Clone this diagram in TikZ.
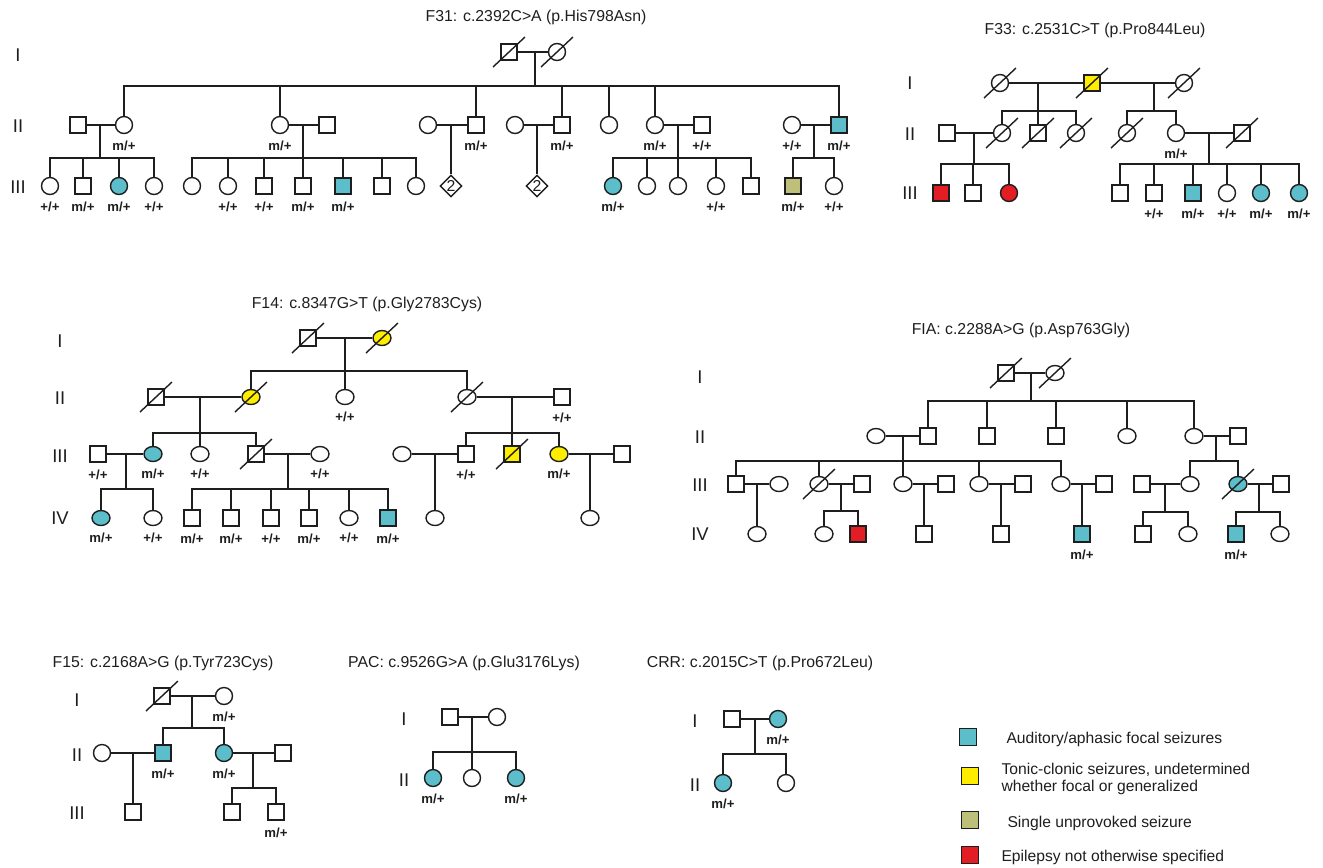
\documentclass[tikz,border=0pt]{standalone}
\usepackage{fontspec}
\setmainfont{Liberation Sans}
\usetikzlibrary{shapes.geometric}
\definecolor{audcol}{RGB}{92,190,202}
\definecolor{tccol}{RGB}{255,237,0}
\definecolor{suscol}{RGB}{190,192,122}
\definecolor{epicol}{RGB}{226,30,36}
\definecolor{inkcol}{RGB}{30,30,30}
\tikzset{
  male/.style     = {draw, rectangle, minimum size=0.32cm, inner sep=0pt},
  female/.style   = {draw, circle, minimum size=0.34cm, inner sep=0pt},
  oval/.style     = {draw, ellipse, minimum width=0.36cm, minimum height=0.3cm, inner sep=0pt},
  twins/.style    = {draw, diamond, minimum size=0.44cm, inner sep=0pt, font=\fontsize{9}{9}\selectfont},
  aud/.style      = {fill=audcol},
  tc/.style       = {fill=tccol},
  sus/.style      = {fill=suscol},
  epi/.style      = {fill=epicol},
  gt/.style       = {label={[font=\bfseries\fontsize{7.5}{8}\selectfont, inner sep=1pt]below:#1}},
  famtitle/.style = {font=\fontsize{9}{10}\selectfont},
  genlab/.style   = {font=\fontsize{10.5}{10.5}\selectfont},
  legbox/.style   = {draw, minimum size=0.34cm, inner sep=0pt},
  legtext/.style  = {anchor=west, align=left, font=\fontsize{8.9}{9.7}\selectfont}
}
\begin{document}
\begin{tikzpicture}[x=0.02cm, y=-0.02cm, line width=0.8pt, color=inkcol, label distance=2.5pt]
\useasboundingbox (0,0) rectangle (1323,867);

% F31
\node [famtitle] (t31) at (536,17) {F31: c.2392C>A (p.His798Asn)};
\foreach \g/\y [count=\k] in {I/55, II/126, III/187}
    \node [genlab] (g31\k) at (18,\y) {\g};

\node [male]                    (a1)  at (509,52)  {};
\node [female]                  (a2)  at (557,52)  {};
\coordinate (a12m) at (535,52);
\coordinate (a12s) at (535,86);

\node [male]                    (b1)  at (78,125)  {};
\node [female, gt=m/+]          (b2)  at (124,125) {};
\node [female, gt=m/+]          (b3)  at (280,125) {};
\node [male]                    (b4)  at (327,125) {};
\node [female]                  (b5)  at (428,125) {};
\node [male, gt=m/+]            (b6)  at (476,125) {};
\node [female]                  (b7)  at (515,125) {};
\node [male, gt=m/+]            (b8)  at (562,125) {};
\node [female]                  (b9)  at (609,125) {};
\node [female, gt=m/+]          (b10) at (655,125) {};
\node [male, gt=+/+]            (b11) at (702,125) {};
\node [female, gt=+/+]          (b12) at (792,125) {};
\node [male, aud, gt=m/+]       (b13) at (839,125) {};
\coordinate (b12m)   at (100,125);  \coordinate (b12s)   at (100,158);
\coordinate (b34m)   at (303,125);  \coordinate (b34s)   at (303,158);
\coordinate (b56m)   at (451,125);
\coordinate (b78m)   at (537,125);
\coordinate (b1011m) at (678,125);  \coordinate (b1011s) at (678,158);
\coordinate (b1213m) at (814,125);  \coordinate (b1213s) at (814,158);

\node [female, gt=+/+]          (c1)  at (50,186)  {};
\node [male, gt=m/+]            (c2)  at (83,186)  {};
\node [female, aud, gt=m/+]     (c3)  at (119,186) {};
\node [female, gt=+/+]          (c4)  at (154,186) {};
\node [female]                  (c5)  at (192,186) {};
\node [female, gt=+/+]          (c6)  at (228,186) {};
\node [male, gt=+/+]            (c7)  at (264,186) {};
\node [male, gt=m/+]            (c8)  at (303,186) {};
\node [male, aud, gt=m/+]       (c9)  at (343,186) {};
\node [male]                    (c10) at (382,186) {};
\node [female]                  (c11) at (416,186) {};
\node [twins]                   (d1)  at (451,186) {2};
\node [twins]                   (d2)  at (537,186) {2};
\node [female, aud, gt=m/+]     (c12) at (613,186) {};
\node [female]                  (c13) at (647,186) {};
\node [female]                  (c14) at (678,186) {};
\node [female, gt=+/+]          (c15) at (716,186) {};
\node [male]                    (c16) at (751,186) {};
\node [male, sus, gt=m/+]       (c17) at (793,186) {};
\node [female, gt=+/+]          (c18) at (834,186) {};

\draw (a1) -- (a2);  \draw (a12m) -- (a12s);
\foreach \c in {b2,b3,b6,b8,b9,b10,b13} \draw (a12s) -| (\c);
\draw (b1) -- (b2);  \draw (b12m) -- (b12s);
\foreach \c in {c1,c2,c3,c4} \draw (b12s) -| (\c);
\draw (b3) -- (b4);  \draw (b34m) -- (b34s);
\foreach \c in {c5,c6,c7,c8,c9,c10,c11} \draw (b34s) -| (\c);
\draw (b5) -- (b6);  \draw (b56m) -- (d1);
\draw (b7) -- (b8);  \draw (b78m) -- (d2);
\draw (b10) -- (b11);  \draw (b1011m) -- (b1011s);
\foreach \c in {c12,c13,c14,c15,c16} \draw (b1011s) -| (\c);
\draw (b12) -- (b13);  \draw (b1213m) -- (b1213s);
\foreach \c in {c17,c18} \draw (b1213s) -| (\c);

% F33
\node [famtitle] (t33) at (1095,30) {F33: c.2531C>T (p.Pro844Leu)};
\foreach \g/\y [count=\k] in {I/83, II/134, III/193}
    \node [genlab] (g33\k) at (910,\y) {\g};

\node [female]                  (e1)  at (1000,83) {};
\node [male, tc]                (e2)  at (1092,83) {};
\node [female]                  (e3)  at (1184,83) {};
\coordinate (e12m) at (1038,83);  \coordinate (e12s) at (1038,111);
\coordinate (e23m) at (1154,83);  \coordinate (e23s) at (1154,111);

\node [male]                    (f1)  at (947,133)  {};
\node [female]                  (f2)  at (1002,133) {};
\node [male]                    (f3)  at (1038,133) {};
\node [female]                  (f4)  at (1076,133) {};
\node [female]                  (f5)  at (1127,133) {};
\node [female, gt=m/+]          (f6)  at (1176,133) {};
\node [male]                    (f7)  at (1242,133) {};
\coordinate (f12m) at (974,133);   \coordinate (f12s) at (974,164);
\coordinate (f67m) at (1209,133);  \coordinate (f67s) at (1209,164);

\node [male, epi]               (g1)  at (941,193)  {};
\node [male]                    (g2)  at (973,193)  {};
\node [female, epi]             (g3)  at (1009,193) {};
\node [male]                    (g4)  at (1120,193) {};
\node [male, gt=+/+]            (g5)  at (1154,193) {};
\node [male, aud, gt=m/+]       (g6)  at (1193,193) {};
\node [female, gt=+/+]          (g7)  at (1227,193) {};
\node [female, aud, gt=m/+]     (g8)  at (1261,193) {};
\node [female, aud, gt=m/+]     (g9)  at (1299,193) {};

\draw (e1) -- (e2);  \draw (e12m) -- (e12s);
\foreach \c in {f2,f3,f4} \draw (e12s) -| (\c);
\draw (e2) -- (e3);  \draw (e23m) -- (e23s);
\foreach \c in {f5,f6} \draw (e23s) -| (\c);
\draw (f1) -- (f2);  \draw (f12m) -- (f12s);
\foreach \c in {g1,g2,g3} \draw (f12s) -| (\c);
\draw (f6) -- (f7);  \draw (f67m) -- (f67s);
\foreach \c in {g4,g5,g6,g7,g8,g9} \draw (f67s) -| (\c);

% F14
\node [famtitle] (t14) at (367,304) {F14: c.8347G>T (p.Gly2783Cys)};
\foreach \g/\y [count=\k] in {I/341, II/398, III/456, IV/518}
    \node [genlab] (g14\k) at (60,\y) {\g};

\node [male]                    (h1)  at (308,338) {};
\node [oval, tc]                (h2)  at (382,338) {};
\coordinate (h12m) at (345,338);  \coordinate (h12s) at (345,371);

\node [male]                    (i1)  at (156,397) {};
\node [oval, tc]                (i2)  at (251,397) {};
\node [oval, gt=+/+]            (i3)  at (345,397) {};
\node [oval]                    (i4)  at (467,397) {};
\node [male, gt=+/+]            (i5)  at (562,397) {};
\coordinate (i12m) at (200,397);  \coordinate (i12s) at (200,433);
\coordinate (i45m) at (512,397);  \coordinate (i45s) at (512,433);

\node [male, gt=+/+]            (j1)  at (98,454)  {};
\node [oval, aud, gt=m/+]       (j2)  at (153,454) {};
\node [oval, gt=+/+]            (j3)  at (200,454) {};
\node [male]                    (j4)  at (256,454) {};
\node [oval, gt=+/+]            (j5)  at (320,454) {};
\node [oval]                    (j6)  at (402,454) {};
\node [male, gt=+/+]            (j7)  at (466,454) {};
\node [male, tc]                (j8)  at (512,454) {};
\node [oval, tc, gt=m/+]        (j9)  at (559,454) {};
\node [male]                    (j10) at (622,454) {};
\coordinate (j12m)  at (126,454);  \coordinate (j12s) at (126,489);
\coordinate (j45m)  at (288,454);  \coordinate (j45s) at (288,489);
\coordinate (j67m)  at (435,454);
\coordinate (j910m) at (590,454);

\node [oval, aud, gt=m/+]       (k1)  at (101,518) {};
\node [oval, gt=+/+]            (k2)  at (153,518) {};
\node [male, gt=m/+]            (k3)  at (192,518) {};
\node [male, gt=m/+]            (k4)  at (231,518) {};
\node [male, gt=+/+]            (k5)  at (271,518) {};
\node [male, gt=m/+]            (k6)  at (309,518) {};
\node [oval, gt=+/+]            (k7)  at (349,518) {};
\node [male, aud, gt=m/+]       (k8)  at (388,518) {};
\node [oval]                    (k9)  at (435,518) {};
\node [oval]                    (k10) at (590,518) {};

\draw (h1) -- (h2);  \draw (h12m) -- (h12s);
\foreach \c in {i2,i3,i4} \draw (h12s) -| (\c);
\draw (i1) -- (i2);  \draw (i12m) -- (i12s);
\foreach \c in {j2,j3,j4} \draw (i12s) -| (\c);
\draw (i4) -- (i5);  \draw (i45m) -- (i45s);
\foreach \c in {j7,j8,j9} \draw (i45s) -| (\c);
\draw (j1) -- (j2);  \draw (j12m) -- (j12s);
\foreach \c in {k1,k2} \draw (j12s) -| (\c);
\draw (j4) -- (j5);  \draw (j45m) -- (j45s);
\foreach \c in {k3,k4,k5,k6,k7,k8} \draw (j45s) -| (\c);
\draw (j6) -- (j7);  \draw (j67m) -- (k9);
\draw (j9) -- (j10);  \draw (j910m) -- (k10);

% FIA
\node [famtitle] (tfia) at (1021,330) {FIA: c.2288A>G (p.Asp763Gly)};
\foreach \g/\y [count=\k] in {I/377, II/437, III/485, IV/534}
    \node [genlab] (gfia\k) at (700,\y) {\g};

\node [male]                    (l1)  at (1006,373) {};
\node [oval]                    (l2)  at (1055,373) {};
\coordinate (l12m) at (1031,373);  \coordinate (l12s) at (1031,401);

\node [oval]                    (m1)  at (876,436)  {};
\node [male]                    (m2)  at (928,436)  {};
\node [male]                    (m3)  at (987,436)  {};
\node [male]                    (m4)  at (1056,436) {};
\node [oval]                    (m5)  at (1127,436) {};
\node [oval]                    (m6)  at (1194,436) {};
\node [male]                    (m7)  at (1238,436) {};
\coordinate (m12m) at (903,436);   \coordinate (m12s) at (903,461);
\coordinate (m67m) at (1216,436);  \coordinate (m67s) at (1216,461);

\node [male]                    (n1)  at (736,484)  {};
\node [oval]                    (n2)  at (779,484)  {};
\node [oval]                    (n3)  at (819,484)  {};
\node [male]                    (n4)  at (862,484)  {};
\node [oval]                    (n5)  at (903,484)  {};
\node [male]                    (n6)  at (946,484)  {};
\node [oval]                    (n7)  at (979,484)  {};
\node [male]                    (n8)  at (1023,484) {};
\node [oval]                    (n9)  at (1061,484) {};
\node [male]                    (n10) at (1104,484) {};
\node [oval]                    (n11) at (1190,484) {};
\node [oval, aud]               (n12) at (1238,484) {};
\node [male]                    (n13) at (1142,484) {};
\node [male]                    (n14) at (1281,484) {};
\coordinate (n12m)   at (757,484);
\coordinate (n34m)   at (841,484);   \coordinate (n34s)   at (841,511);
\coordinate (n56m)   at (924,484);
\coordinate (n78m)   at (1001,484);
\coordinate (n910m)  at (1082,484);
\coordinate (n1311m) at (1165,484);  \coordinate (n1311s) at (1165,512);
\coordinate (n1214m) at (1259,484);  \coordinate (n1214s) at (1259,512);

\node [oval]                    (o1)  at (757,534)  {};
\node [oval]                    (o2)  at (824,534)  {};
\node [male, epi]               (o3)  at (858,534)  {};
\node [male]                    (o4)  at (924,534)  {};
\node [male]                    (o5)  at (1001,534) {};
\node [male, aud, gt=m/+]       (o6)  at (1082,534) {};
\node [male]                    (o7)  at (1143,534) {};
\node [oval]                    (o8)  at (1188,534) {};
\node [male, aud, gt=m/+]       (o9)  at (1236,534) {};
\node [oval]                    (o10) at (1280,534) {};

\draw (l1) -- (l2);  \draw (l12m) -- (l12s);
\foreach \c in {m2,m3,m4,m5,m6} \draw (l12s) -| (\c);
\draw (m1) -- (m2);  \draw (m12m) -- (m12s);
\foreach \c in {n1,n3,n5,n7,n9} \draw (m12s) -| (\c);
\draw (m6) -- (m7);  \draw (m67m) -- (m67s);
\foreach \c in {n11,n12} \draw (m67s) -| (\c);
\draw (n1) -- (n2);  \draw (n12m) -- (o1);
\draw (n3) -- (n4);  \draw (n34m) -- (n34s);
\foreach \c in {o2,o3} \draw (n34s) -| (\c);
\draw (n5) -- (n6);  \draw (n56m) -- (o4);
\draw (n7) -- (n8);  \draw (n78m) -- (o5);
\draw (n9) -- (n10);  \draw (n910m) -- (o6);
\draw (n13) -- (n11);  \draw (n1311m) -- (n1311s);
\foreach \c in {o7,o8} \draw (n1311s) -| (\c);
\draw (n12) -- (n14);  \draw (n1214m) -- (n1214s);
\foreach \c in {o9,o10} \draw (n1214s) -| (\c);

% F15
\node [famtitle] (t15) at (163,663) {F15: c.2168A>G (p.Tyr723Cys)};
\foreach \g/\y [count=\k] in {I/700, II/755, III/813}
    \node [genlab] (g15\k) at (77,\y) {\g};

\node [male]                    (p1)  at (162,696) {};
\node [female, gt=m/+]          (p2)  at (224,696) {};
\coordinate (p12m) at (192,696);  \coordinate (p12s) at (192,728);
\node [female]                  (q1)  at (102,753) {};
\node [male, aud, gt=m/+]       (q2)  at (163,753) {};
\node [female, aud, gt=m/+]     (q3)  at (224,753) {};
\node [male]                    (q4)  at (283,753) {};
\coordinate (q12m) at (133,753);
\coordinate (q34m) at (253,753);  \coordinate (q34s) at (253,788);
\node [male]                    (r1)  at (133,812) {};
\node [male]                    (r2)  at (232,812) {};
\node [male, gt=m/+]            (r3)  at (276,812) {};

\draw (p1) -- (p2);  \draw (p12m) -- (p12s);
\foreach \c in {q2,q3} \draw (p12s) -| (\c);
\draw (q1) -- (q2);  \draw (q12m) -- (r1);
\draw (q3) -- (q4);  \draw (q34m) -- (q34s);
\foreach \c in {r2,r3} \draw (q34s) -| (\c);

% PAC
\node [famtitle] (tpac) at (464,663) {PAC: c.9526G>A (p.Glu3176Lys)};
\foreach \g/\y [count=\k] in {I/719, II/780}
    \node [genlab] (gpac\k) at (404,\y) {\g};

\node [male]                    (s1)  at (450,717) {};
\node [female]                  (s2)  at (497,717) {};
\coordinate (s12m) at (472,717);  \coordinate (s12s) at (472,752);
\node [female, aud, gt=m/+]     (u1)  at (433,778) {};
\node [female]                  (u2)  at (472,778) {};
\node [female, aud, gt=m/+]     (u3)  at (516,778) {};

\draw (s1) -- (s2);  \draw (s12m) -- (s12s);
\foreach \c in {u1,u2,u3} \draw (s12s) -| (\c);

% CRR
\node [famtitle] (tcrr) at (760,663) {CRR: c.2015C>T (p.Pro672Leu)};
\foreach \g/\y [count=\k] in {I/721, II/785}
    \node [genlab] (gcrr\k) at (695,\y) {\g};

\node [male]                    (v1)  at (732,719) {};
\node [female, aud, gt=m/+]     (v2)  at (778,719) {};
\coordinate (v12m) at (755,719);  \coordinate (v12s) at (755,754);
\node [female, aud, gt=m/+]     (w1)  at (723,783) {};
\node [female]                  (w2)  at (786,783) {};

\draw (v1) -- (v2);  \draw (v12m) -- (v12s);
\foreach \c in {w1,w2} \draw (v12s) -| (\c);

% deceased
\foreach \n in {a1,a2,e1,e2,e3,f2,f3,f4,f5,f7,h1,h2,i1,i2,i4,j4,j8,l1,l2,n3,n12,p1}
    \draw ([shift={(-0.32cm,-0.3cm)}]\n.center) -- ([shift={(0.32cm,0.3cm)}]\n.center);

% legend
\node [legbox, aud] (lg1) at (968,737) {};
\node [legbox, tc]  (lg2) at (970,776) {};
\node [legbox, sus] (lg3) at (970,820) {};
\node [legbox, epi] (lg4) at (970,855) {};
\node [legtext] (lt1) at (1000,739) {Auditory/aphasic focal seizures};
\node [legtext] (lt2) at (995,779) {Tonic-clonic seizures, undetermined\\whether focal or generalized};
\node [legtext] (lt3) at (1001,823) {Single unprovoked seizure};
\node [legtext] (lt4) at (995,857) {Epilepsy not otherwise specified};
\end{tikzpicture}
\end{document}
